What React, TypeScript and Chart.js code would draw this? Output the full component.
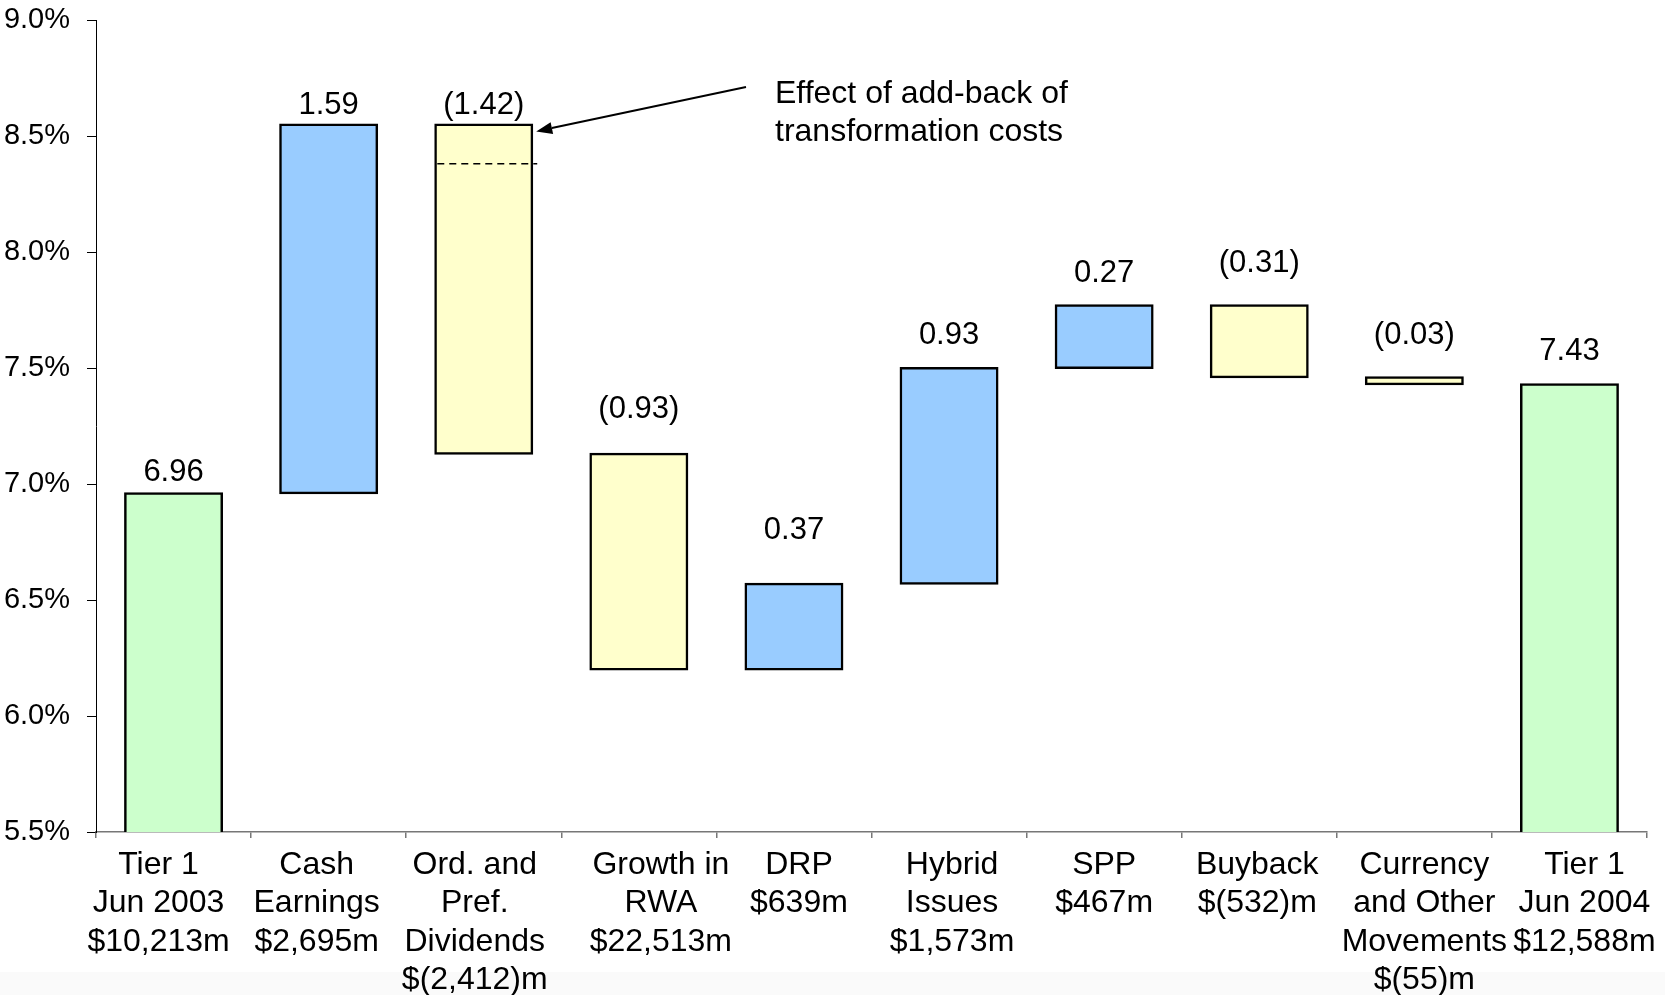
import React, { useEffect, useRef } from "react";
import { Chart, registerables } from "chart.js";

Chart.register(...registerables);

// ---------- data ----------
const categoryLines: string[][] = [
  ["Tier 1", "Jun 2003", "$10,213m"],
  ["Cash", "Earnings", "$2,695m"],
  ["Ord. and", "Pref.", "Dividends", "$(2,412)m"],
  ["Growth in", "RWA", "$22,513m"],
  ["DRP", "$639m"],
  ["Hybrid", "Issues", "$1,573m"],
  ["SPP", "$467m"],
  ["Buyback", "$(532)m"],
  ["Currency", "and Other", "Movements", "$(55)m"],
  ["Tier 1", "Jun 2004", "$12,588m"],
];
const startValue = 6.96;
const changes = [1.59, -1.42, -0.93, 0.37, 0.93, 0.27, -0.31, -0.03];
const endValue = 7.43;
const valueLabels = ["6.96", "1.59", "(1.42)", "(0.93)", "0.37", "0.93", "0.27", "(0.31)", "(0.03)", "7.43"];
const addBackLevel = 8.38; // dashed line inside dividends bar
const yMin = 5.5;
const yMax = 9.0;
const yStep = 0.5;
const annotationLines = ["Effect of add-back of", "transformation costs"];

// ---------- styles ----------
const FONT = '"Liberation Sans", Arial, Helvetica, sans-serif';
const GREEN = "#CCFFCC";
const BLUE = "#99CCFF";
const YELLOW = "#FFFFCC";
const labelLift = [12, 10, 10, 36, 45, 24, 23, 33, 33, 24];
const catLabelShift = [-15, -12, -9, 22, 5, 3, 0, -2, 10, 15];

function buildRanges() {
  const ranges: [number, number][] = [[yMin, startValue]];
  let level = startValue;
  for (const d of changes) {
    ranges.push([level, level + d]);
    level = level + d;
  }
  ranges.push([yMin, endValue]);
  return ranges;
}

export default function App() {
  const canvasRef = useRef<HTMLCanvasElement | null>(null);

  useEffect(() => {
    const canvas = canvasRef.current;
    if (!canvas) return;
    const ranges = buildRanges();
    const n = ranges.length;
    const isTotal = (i: number) => i === 0 || i === n - 1;
    const colors = ranges.map((r, i) => (isTotal(i) ? GREEN : r[1] >= r[0] ? BLUE : YELLOW));

    const drawPlugin = {
      id: "waterfallDecor",
      beforeDraw(chart: any) {
        const { ctx, width, height } = chart;
        ctx.save();
        ctx.fillStyle = "#ffffff";
        ctx.fillRect(0, 0, width, height);
        ctx.fillStyle = "#fafafa";
        ctx.fillRect(0, 972, width, height - 972);
        ctx.restore();
      },
      afterDraw(chart: any) {
        const { ctx, chartArea } = chart;
        const xs = chart.scales.x;
        const ys = chart.scales.y;
        const meta = chart.getDatasetMeta(0);
        ctx.save();
        ctx.fillStyle = "#000";
        ctx.textBaseline = "alphabetic";

        // value labels
        ctx.font = `31px ${FONT}`;
        ctx.textAlign = "center";
        meta.data.forEach((bar: any, i: number) => {
          const p = bar.getProps(["x", "y", "base"], true);
          const top = Math.min(p.y, p.base);
          ctx.fillText(valueLabels[i], p.x, top - labelLift[i]);
        });

        // category labels
        ctx.font = `32px ${FONT}`;
        categoryLines.forEach((lines, i) => {
          const cx = xs.getPixelForValue(i) + catLabelShift[i];
          lines.forEach((t, j) => {
            ctx.fillText(t, cx, chartArea.bottom + 42 + j * 38.3);
          });
        });

        // dashed add-back line in dividends bar
        const divBar: any = meta.data[2];
        const dp = divBar.getProps(["x", "y", "base", "width"], true);
        const dy = ys.getPixelForValue(addBackLevel);
        ctx.strokeStyle = "#000";
        ctx.lineWidth = 1.5;
        ctx.setLineDash([7, 5]);
        ctx.beginPath();
        ctx.moveTo(dp.x - dp.width / 2 + 2, dy);
        ctx.lineTo(dp.x + dp.width / 2 + 5, dy);
        ctx.stroke();
        ctx.setLineDash([]);

        // arrow
        const tipX = dp.x + dp.width / 2 + 4;
        const tipY = Math.min(dp.y, dp.base) + 7;
        const sx = 746;
        const sy = 87;
        const ang = Math.atan2(tipY - sy, tipX - sx);
        const headLen = 16;
        const headW = 6;
        const bx = tipX - headLen * Math.cos(ang);
        const by = tipY - headLen * Math.sin(ang);
        ctx.lineWidth = 2;
        ctx.beginPath();
        ctx.moveTo(sx, sy);
        ctx.lineTo(bx, by);
        ctx.stroke();
        ctx.beginPath();
        ctx.moveTo(tipX, tipY);
        ctx.lineTo(bx + headW * Math.sin(ang), by - headW * Math.cos(ang));
        ctx.lineTo(bx - headW * Math.sin(ang), by + headW * Math.cos(ang));
        ctx.closePath();
        ctx.fill();

        // annotation text
        ctx.textAlign = "left";
        ctx.font = `32px ${FONT}`;
        annotationLines.forEach((t, j) => {
          ctx.fillText(t, 775, 103 + j * 37.5);
        });
        ctx.restore();
      },
    };

    const chart = new Chart(canvas, {
      type: "bar",
      data: {
        labels: categoryLines.map((l) => l.join(" ")),
        datasets: [
          {
            data: ranges as any,
            backgroundColor: colors,
            borderColor: "#000",
            borderWidth: 2.5,
            inflateAmount: 1,
            borderSkipped: ((c: any) => (isTotal(c.dataIndex) ? "start" : false)) as any,
            barPercentage: 0.625,
            categoryPercentage: 1,
          } as any,
        ],
      },
      options: {
        responsive: false,
        animation: false,
        devicePixelRatio: 1,
        layout: { padding: { top: 20, right: 18, left: 0, bottom: 0 } },
        plugins: { legend: { display: false }, tooltip: { enabled: false } },
        scales: {
          x: {
            type: "category",
            offset: true,
            ticks: { display: false },
            grid: { drawOnChartArea: false, drawTicks: true, tickLength: 6, color: "#777", offset: true, lineWidth: 1.5 },
            border: { display: true, color: "#777", width: 1.5 },
            afterFit: (s: any) => {
              s.height = 163;
              s.paddingLeft = 0;
              s.paddingRight = 0;
            },
          },
          y: {
            min: yMin,
            max: yMax,
            ticks: {
              stepSize: yStep,
              color: "#000",
              font: { family: FONT, size: 29 },
              padding: 17,
              callback: (v: any) => Number(v).toFixed(1) + "%",
            },
            grid: { drawOnChartArea: false, drawTicks: true, tickLength: 9, color: "#000" },
            border: { display: true, color: "#000", width: 1 },
            afterFit: (s: any) => {
              s.width = 96;
              s.paddingTop = 0;
              s.paddingBottom = 0;
            },
          },
        },
      },
      plugins: [drawPlugin],
    });

    return () => chart.destroy();
  }, []);

  return (
    <div style={{ position: "absolute", left: 0, top: 0, width: 1665, height: 995 }}>
      <canvas ref={canvasRef} width={1665} height={995} style={{ display: "block" }} />
    </div>
  );
}
